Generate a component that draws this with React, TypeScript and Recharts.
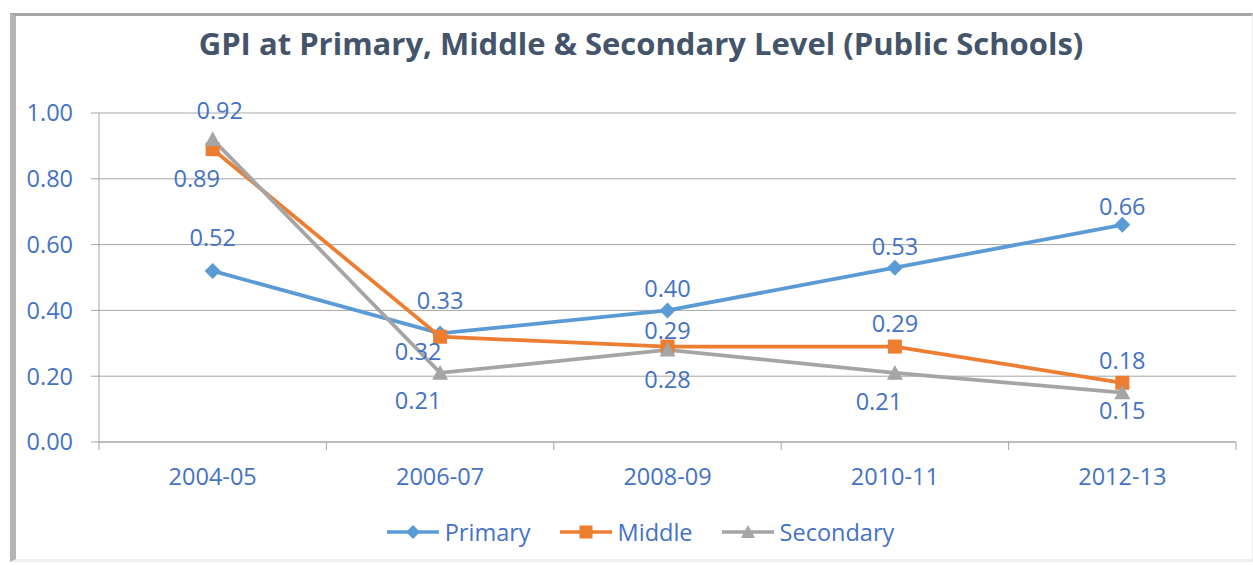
import React from 'react';
import { LineChart, Line, XAxis, YAxis, CartesianGrid, LabelList, Legend } from 'recharts';

const years = ['2004-05', '2006-07', '2008-09', '2010-11', '2012-13'];
const primary = [0.52, 0.33, 0.40, 0.53, 0.66];
const middle = [0.89, 0.32, 0.29, 0.29, 0.18];
const secondary = [0.92, 0.21, 0.28, 0.21, 0.15];
const yTicks = [0, 0.2, 0.4, 0.6, 0.8, 1.0];

// label offsets (style) relative to each point: [dx, dy]
const primaryLabelOff = [[0, -34], [0, -33], [0, -22], [0, -22], [0, -19]];
const middleLabelOff = [[-16, 29], [-22, 14], [0, -17], [0, -24], [0, -23]];
const secondaryLabelOff = [[7, -29], [-22, 27], [0, 29], [-16, 28], [0, 17]];

const data = years.map((y, i) => ({ year: y, Primary: primary[i], Middle: middle[i], Secondary: secondary[i] }));

const W = 1253;
const H = 565;
const PLOT_LEFT = 99;
const PLOT_RIGHT = 1236;
const PLOT_TOP = 113;
const PLOT_BOTTOM = 442;
const STEP = (PLOT_RIGHT - PLOT_LEFT) / years.length;

const FONT = '"Open Sans", "Noto Sans", sans-serif';
const FS = 23.5;
const TEXT_BLUE = '#4472C4';
const GRID = '#a6a6a6';
const C_PRI = '#5B9BD5';
const C_MID = '#ED7D31';
const C_SEC = '#A5A5A5';

const Diamond = (cx: number, cy: number, color: string, r = 8) => (
  <path d={`M${cx},${cy - r} L${cx + r},${cy} L${cx},${cy + r} L${cx - r},${cy} Z`} fill={color} />
);
const Square = (cx: number, cy: number, color: string, s = 14) => (
  <rect x={cx - s / 2} y={cy - s / 2} width={s} height={s} fill={color} />
);
const Triangle = (cx: number, cy: number, color: string, s = 16) => (
  <path d={`M${cx},${cy - s * 0.5} L${cx + s / 2},${cy + s * 0.42} L${cx - s / 2},${cy + s * 0.42} Z`} fill={color} />
);

const makeDot = (kind: string, color: string) => (props: any) => {
  const { cx, cy, index } = props;
  if (cx == null || cy == null) return <g key={`d-${kind}-${index}`} />;
  return (
    <g key={`d-${kind}-${index}`}>
      {kind === 'diamond' ? Diamond(cx, cy, color) : kind === 'square' ? Square(cx, cy, color) : Triangle(cx, cy, color)}
    </g>
  );
};

const makeLabel = (offs: number[][]) => (props: any) => {
  const { x, y, value, index } = props;
  const [dx, dy] = offs[index] || [0, -20];
  return (
    <text
      x={x + dx}
      y={y + dy}
      textAnchor="middle"
      dominantBaseline="central"
      fill={TEXT_BLUE}
      fontSize={FS}
      fontFamily={FONT}
    >
      {Number(value).toFixed(2)}
    </text>
  );
};

const XTick = (props: any) => {
  const { x, y, payload, index } = props;
  const half = STEP / 2;
  return (
    <g>
      <line x1={x - half} y1={y} x2={x - half} y2={y + 8} stroke={GRID} strokeWidth={1} />
      {index === years.length - 1 && (
        <line x1={x + half} y1={y} x2={x + half} y2={y + 8} stroke={GRID} strokeWidth={1} />
      )}
      <text x={x} y={y + 34} textAnchor="middle" dominantBaseline="central" fill={TEXT_BLUE} fontSize={FS} fontFamily={FONT}>
        {payload.value}
      </text>
    </g>
  );
};

const legendItems = [
  { name: 'Primary', color: C_PRI, kind: 'diamond' },
  { name: 'Middle', color: C_MID, kind: 'square' },
  { name: 'Secondary', color: C_SEC, kind: 'triangle' },
];

const LegendContent = () => (
  <div style={{ display: 'flex', justifyContent: 'center', alignItems: 'center', gap: 29, width: W, marginLeft: 14 }}>
    {legendItems.map((it) => (
      <div key={it.name} style={{ display: 'flex', alignItems: 'center' }}>
        <svg width={52} height={20} style={{ marginRight: 6 }}>
          <line x1={0} y1={10} x2={52} y2={10} stroke={it.color} strokeWidth={3.5} />
          {it.kind === 'diamond' ? Diamond(26, 10, it.color, 7) : it.kind === 'square' ? Square(26, 10, it.color, 13) : Triangle(26, 10, it.color, 14)}
        </svg>
        <span style={{ fontFamily: FONT, fontSize: FS, color: TEXT_BLUE, lineHeight: '30px' }}>{it.name}</span>
      </div>
    ))}
  </div>
);

export default function App() {
  return (
    <div style={{ position: 'absolute', left: 0, top: 0, width: W, height: H, background: '#fff', overflow: 'hidden' }}>
      <div
        style={{
          position: 'absolute',
          left: 10,
          top: 13,
          width: W - 10 - 6 - 1,
          height: 562 - 13 - 3 - 3,
          borderTop: '3px solid #a6a6a6',
          borderLeft: '6px solid #b4b4b4',
          borderRight: '1px solid #ececec',
          borderBottom: '3px solid #eeeeee',
        }}
      />
      <div
        style={{
          position: 'absolute',
          left: 0,
          top: 22,
          width: 1282,
          textAlign: 'center',
          fontFamily: FONT,
          fontWeight: 700,
          fontSize: 31,
          lineHeight: '42px',
          color: '#44546A',
        }}
      >
        GPI at Primary, Middle &amp; Secondary Level (Public Schools)
      </div>
      <div style={{ position: 'absolute', left: 0, top: 0 }}>
        <LineChart
          width={W}
          height={H}
          data={data}
          margin={{ top: PLOT_TOP, right: W - PLOT_RIGHT, bottom: 0, left: 0 }}
        >
          <CartesianGrid vertical={false} stroke={GRID} strokeWidth={1} />
          <XAxis
            dataKey="year"
            padding={{ left: STEP / 2, right: STEP / 2 }}
            tickLine={false}
            tickSize={0}
            tickMargin={0}
            axisLine={{ stroke: GRID, strokeWidth: 1 }}
            tick={<XTick />}
            interval={0}
            height={H - PLOT_BOTTOM}
          />
          <YAxis
            domain={[0, 1]}
            ticks={yTicks}
            tickFormatter={(v: number) => v.toFixed(2)}
            width={PLOT_LEFT}
            tickSize={8}
            tickMargin={18}
            axisLine={{ stroke: GRID, strokeWidth: 1 }}
            tickLine={{ stroke: GRID, strokeWidth: 1 }}
            tick={{ fill: TEXT_BLUE, fontSize: FS, fontFamily: FONT }}
          />
          <Legend
            layout="horizontal"
            verticalAlign="middle"
            align="center"
            content={<LegendContent />}
            wrapperStyle={{ top: 517, left: 0, width: W, height: 30 }}
          />
          <Line
            dataKey="Primary"
            stroke={C_PRI}
            strokeWidth={3.75}
            dot={makeDot('diamond', C_PRI)}
            activeDot={false}
            isAnimationActive={false}
          >
            <LabelList dataKey="Primary" content={makeLabel(primaryLabelOff)} />
          </Line>
          <Line
            dataKey="Middle"
            stroke={C_MID}
            strokeWidth={3.75}
            dot={makeDot('square', C_MID)}
            activeDot={false}
            isAnimationActive={false}
          >
            <LabelList dataKey="Middle" content={makeLabel(middleLabelOff)} />
          </Line>
          <Line
            dataKey="Secondary"
            stroke={C_SEC}
            strokeWidth={3.75}
            dot={makeDot('triangle', C_SEC)}
            activeDot={false}
            isAnimationActive={false}
          >
            <LabelList dataKey="Secondary" content={makeLabel(secondaryLabelOff)} />
          </Line>
        </LineChart>
      </div>
    </div>
  );
}
